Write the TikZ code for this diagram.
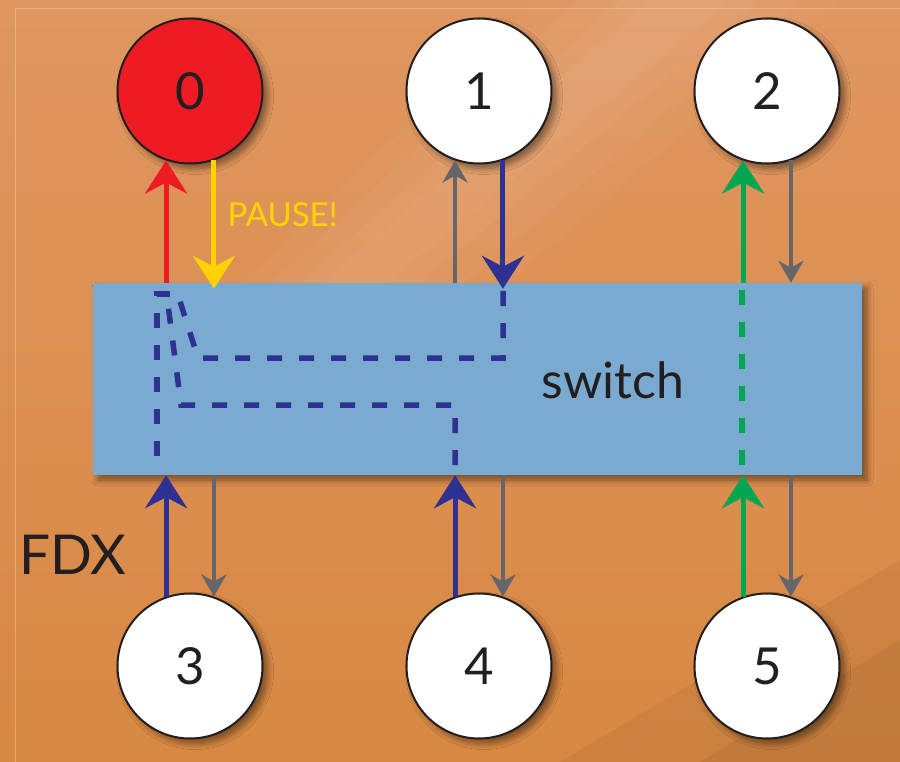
\documentclass[tikz,border=0pt]{standalone}
\usepackage{fontspec}
\setmainfont{Lato}
\usetikzlibrary{arrows.meta,shadows.blur,calc}
\definecolor{bgtop}{RGB}{223,150,96}
\definecolor{bgbot}{RGB}{216,136,66}
\definecolor{nred}{RGB}{237,28,36}
\definecolor{nyel}{RGB}{255,210,0}
\definecolor{ngray}{RGB}{102,102,106}
\definecolor{nblue}{RGB}{46,49,146}
\definecolor{ngreen}{RGB}{0,166,81}
\definecolor{swblue}{RGB}{122,170,208}
\definecolor{txt}{RGB}{35,31,32}
\tikzset{
  sh/.style={blur shadow={shadow xshift=5pt, shadow yshift=-5pt, shadow blur steps=8, shadow opacity=45, shadow blur radius=6pt}},
  circ/.style={circle, draw=txt, line width=2pt, minimum size=145pt, inner sep=0pt, fill=white, text=txt, font=\fontsize{51}{51}\selectfont, sh},
  bigarr/.style={line width=5pt, -{Stealth[length=33pt, width=42pt, inset=11pt]}},
  grayarr/.style={draw=ngray, line width=4.5pt, -{Stealth[length=22pt, width=25pt, inset=7pt]}},
  dsh/.style={draw=nblue, line width=5.5pt, dash pattern=on 15pt off 17pt},
}
\begin{document}
\begin{tikzpicture}[x=1pt,y=-1pt]
\useasboundingbox (0,0) rectangle (900,762);
% background
\shade[top color=bgtop, bottom color=bgbot] (0,0) rectangle (900,762);
\foreach \a/\b/\c/\d/\e in {540/840/440/180/340, 580/800/420/230/320, 620/760/400/280/300, 650/730/385/320/285}{
  \fill[white, opacity=0.035] (\a,0) -- (\b,0) -- (\c,\e) -- (\d,\e) -- cycle;
}
\fill[black, opacity=0.05] (560,762) -- (900,560) -- (900,762) -- cycle;
\fill[black, opacity=0.05] (700,762) -- (900,640) -- (900,762) -- cycle;
\draw[white, opacity=0.25, line width=0.8pt] (15,762) -- (15,8) -- (900,8);
% switch
\node[rectangle, fill=swblue, minimum width=769pt, minimum height=192pt, inner sep=0pt, sh] (sw) at (477.5,379) {};
\node[text=txt, font=\fontsize{50}{50}\selectfont] (swl) at (613,380) {switch};
% nodes
\node[circ, fill=nred] (n0) at (190,91) {0};
\node[circ] (n1) at (479,91) {1};
\node[circ] (n2) at (767,91) {2};
\node[circ] (n3) at (190,666) {3};
\node[circ] (n4) at (479,666) {4};
\node[circ] (n5) at (767,666) {5};
% labels
\node[text=nyel, font=\fontsize{33}{33}\selectfont, anchor=west] (pause) at (224,215) {PAUSE!};
\node[text=txt, font=\fontsize{55}{55}\selectfont, anchor=west] (fdx) at (16,555) {FDX};
% top arrows
\draw[bigarr, draw=nred, fill=nred] (sw.north -| n0.-109) -- (n0.-109);
\draw[bigarr, draw=nyel, fill=nyel, shorten >=-6pt] (n0.-71) -- (n0.-71 |- sw.north);
\draw[grayarr, fill=ngray] (sw.north -| n1.-109) -- (n1.-109);
\draw[bigarr, draw=nblue, fill=nblue, shorten >=-6pt] (n1.-71) -- (n1.-71 |- sw.north);
\draw[bigarr, draw=ngreen, fill=ngreen] (sw.north -| n2.-109) -- (n2.-109);
\draw[grayarr, fill=ngray] (n2.-71) -- (n2.-71 |- sw.north);
% bottom arrows
\draw[bigarr, draw=nblue, fill=nblue] (n3.109) -- (n3.109 |- sw.south);
\draw[grayarr, fill=ngray] (sw.south -| n3.71) -- (n3.71);
\draw[bigarr, draw=nblue, fill=nblue] (n4.109) -- (n4.109 |- sw.south);
\draw[grayarr, fill=ngray] (sw.south -| n4.71) -- (n4.71);
\draw[bigarr, draw=ngreen, fill=ngreen] (n5.109) -- (n5.109 |- sw.south);
\draw[grayarr, fill=ngray] (sw.south -| n5.71) -- (n5.71);
% dashed paths inside switch
\draw[dsh] (170,294) -- (157,294) -- (157,462);
\draw[dsh] (503,291) -- (503,358) -- (198,358) -- (178,295);
\draw[dsh] (455,465) -- (455,405) -- (181,405) -- (167,297);
\draw[dsh, draw=ngreen] (742,290) -- (742,470);
\end{tikzpicture}
\end{document}
